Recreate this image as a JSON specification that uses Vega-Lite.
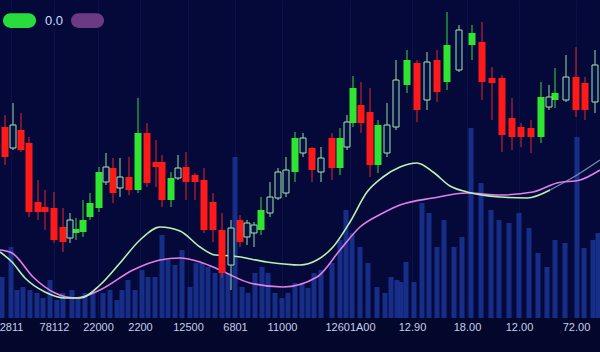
{
  "$schema": "https://vega.github.io/schema/vega-lite/v6.json",
  "width": 600,
  "height": 318,
  "autosize": "none",
  "padding": {"left": 0, "top": 0, "right": 0, "bottom": 34},
  "background": "#03072b",
  "config": {"view": {"fill": "#04093a", "stroke": null}},
  "datasets": {
    "candles": [
      {"x": 5, "o": 185, "h": 197, "l": 147, "c": 155, "kind": "down"},
      {"x": 13, "o": 164, "h": 209, "l": 162, "c": 187, "kind": "hollow"},
      {"x": 21, "o": 182, "h": 199, "l": 160, "c": 162, "kind": "down"},
      {"x": 29, "o": 169, "h": 175, "l": 95, "c": 100, "kind": "down"},
      {"x": 38, "o": 110, "h": 132, "l": 92, "c": 100, "kind": "down"},
      {"x": 45, "o": 105, "h": 122, "l": 82, "c": 100, "kind": "down"},
      {"x": 54, "o": 104, "h": 120, "l": 69, "c": 72, "kind": "down"},
      {"x": 63, "o": 85, "h": 104, "l": 60, "c": 70, "kind": "down"},
      {"x": 70, "o": 74, "h": 99, "l": 69, "c": 92, "kind": "hollow"},
      {"x": 76, "o": 79, "h": 94, "l": 72, "c": 83, "kind": "up"},
      {"x": 83, "o": 80, "h": 112, "l": 75, "c": 92, "kind": "up"},
      {"x": 90, "o": 95, "h": 119, "l": 92, "c": 109, "kind": "up"},
      {"x": 99, "o": 104, "h": 145, "l": 100, "c": 140, "kind": "up"},
      {"x": 106, "o": 130, "h": 159, "l": 127, "c": 145, "kind": "hollow"},
      {"x": 113, "o": 144, "h": 154, "l": 109, "c": 119, "kind": "down"},
      {"x": 120, "o": 124, "h": 154, "l": 115, "c": 135, "kind": "hollow"},
      {"x": 129, "o": 135, "h": 155, "l": 117, "c": 122, "kind": "down"},
      {"x": 138, "o": 122, "h": 214, "l": 119, "c": 179, "kind": "up"},
      {"x": 147, "o": 179, "h": 189, "l": 125, "c": 129, "kind": "down"},
      {"x": 156, "o": 150, "h": 172, "l": 125, "c": 145, "kind": "down"},
      {"x": 162, "o": 150, "h": 157, "l": 105, "c": 112, "kind": "down"},
      {"x": 171, "o": 112, "h": 140, "l": 105, "c": 134, "kind": "up"},
      {"x": 178, "o": 134, "h": 157, "l": 132, "c": 144, "kind": "hollow"},
      {"x": 186, "o": 145, "h": 160, "l": 112, "c": 130, "kind": "down"},
      {"x": 195, "o": 137, "h": 139, "l": 112, "c": 130, "kind": "down"},
      {"x": 204, "o": 132, "h": 144, "l": 79, "c": 82, "kind": "down"},
      {"x": 213, "o": 110, "h": 119, "l": 70, "c": 82, "kind": "down"},
      {"x": 222, "o": 82, "h": 99, "l": 34, "c": 39, "kind": "down"},
      {"x": 231, "o": 47, "h": 92, "l": 22, "c": 84, "kind": "hollow"},
      {"x": 240, "o": 92, "h": 97, "l": 65, "c": 70, "kind": "down"},
      {"x": 247, "o": 75, "h": 92, "l": 67, "c": 89, "kind": "hollow"},
      {"x": 254, "o": 79, "h": 90, "l": 65, "c": 87, "kind": "hollow"},
      {"x": 261, "o": 82, "h": 115, "l": 77, "c": 102, "kind": "up"},
      {"x": 270, "o": 99, "h": 130, "l": 95, "c": 115, "kind": "hollow"},
      {"x": 278, "o": 114, "h": 144, "l": 112, "c": 140, "kind": "hollow"},
      {"x": 286, "o": 119, "h": 155, "l": 115, "c": 142, "kind": "hollow"},
      {"x": 295, "o": 140, "h": 180, "l": 130, "c": 174, "kind": "up"},
      {"x": 303, "o": 159, "h": 179, "l": 155, "c": 174, "kind": "hollow"},
      {"x": 312, "o": 164, "h": 165, "l": 130, "c": 142, "kind": "down"},
      {"x": 321, "o": 140, "h": 165, "l": 130, "c": 154, "kind": "hollow"},
      {"x": 332, "o": 174, "h": 179, "l": 132, "c": 144, "kind": "down"},
      {"x": 340, "o": 144, "h": 184, "l": 137, "c": 174, "kind": "up"},
      {"x": 347, "o": 165, "h": 197, "l": 162, "c": 190, "kind": "hollow"},
      {"x": 353, "o": 189, "h": 236, "l": 185, "c": 224, "kind": "up"},
      {"x": 361, "o": 207, "h": 230, "l": 179, "c": 189, "kind": "down"},
      {"x": 370, "o": 200, "h": 224, "l": 135, "c": 147, "kind": "down"},
      {"x": 378, "o": 147, "h": 192, "l": 139, "c": 187, "kind": "up"},
      {"x": 387, "o": 159, "h": 209, "l": 155, "c": 187, "kind": "hollow"},
      {"x": 396, "o": 185, "h": 252, "l": 182, "c": 232, "kind": "hollow"},
      {"x": 407, "o": 227, "h": 262, "l": 219, "c": 252, "kind": "up"},
      {"x": 417, "o": 249, "h": 252, "l": 190, "c": 202, "kind": "down"},
      {"x": 427, "o": 212, "h": 260, "l": 202, "c": 250, "kind": "hollow"},
      {"x": 437, "o": 252, "h": 262, "l": 210, "c": 220, "kind": "down"},
      {"x": 447, "o": 230, "h": 300, "l": 222, "c": 267, "kind": "up"},
      {"x": 459, "o": 242, "h": 287, "l": 240, "c": 282, "kind": "hollow"},
      {"x": 472, "o": 267, "h": 287, "l": 252, "c": 279, "kind": "up"},
      {"x": 482, "o": 270, "h": 290, "l": 212, "c": 230, "kind": "down"},
      {"x": 492, "o": 234, "h": 245, "l": 192, "c": 229, "kind": "down"},
      {"x": 502, "o": 234, "h": 237, "l": 160, "c": 177, "kind": "down"},
      {"x": 512, "o": 194, "h": 214, "l": 162, "c": 175, "kind": "down"},
      {"x": 521, "o": 185, "h": 189, "l": 165, "c": 175, "kind": "down"},
      {"x": 531, "o": 184, "h": 192, "l": 159, "c": 175, "kind": "down"},
      {"x": 541, "o": 175, "h": 230, "l": 169, "c": 215, "kind": "up"},
      {"x": 549, "o": 205, "h": 227, "l": 202, "c": 215, "kind": "hollow"},
      {"x": 555, "o": 212, "h": 244, "l": 204, "c": 219, "kind": "up"},
      {"x": 566, "o": 212, "h": 257, "l": 210, "c": 235, "kind": "hollow"},
      {"x": 576, "o": 235, "h": 265, "l": 195, "c": 202, "kind": "down"},
      {"x": 585, "o": 229, "h": 235, "l": 192, "c": 202, "kind": "down"},
      {"x": 595, "o": 210, "h": 262, "l": 199, "c": 247, "kind": "hollow"}
    ],
    "volume": [
      {"x": 2, "vol": 35}, {"x": 11, "vol": 65}, {"x": 17, "vol": 22}, {"x": 23, "vol": 25},
      {"x": 30, "vol": 22}, {"x": 37, "vol": 19}, {"x": 43, "vol": 14}, {"x": 50, "vol": 32},
      {"x": 57, "vol": 12}, {"x": 63, "vol": 19}, {"x": 72, "vol": 22}, {"x": 78, "vol": 14},
      {"x": 85, "vol": 19}, {"x": 93, "vol": 20}, {"x": 103, "vol": 19}, {"x": 110, "vol": 22},
      {"x": 117, "vol": 12}, {"x": 122, "vol": 22}, {"x": 128, "vol": 32}, {"x": 135, "vol": 22},
      {"x": 142, "vol": 42}, {"x": 148, "vol": 35}, {"x": 155, "vol": 35}, {"x": 162, "vol": 77},
      {"x": 168, "vol": 52}, {"x": 175, "vol": 47}, {"x": 182, "vol": 62}, {"x": 190, "vol": 25},
      {"x": 196, "vol": 49}, {"x": 202, "vol": 49}, {"x": 208, "vol": 45}, {"x": 215, "vol": 39},
      {"x": 222, "vol": 49}, {"x": 228, "vol": 39}, {"x": 235, "vol": 155}, {"x": 242, "vol": 25},
      {"x": 248, "vol": 19}, {"x": 255, "vol": 39}, {"x": 262, "vol": 45}, {"x": 268, "vol": 39},
      {"x": 275, "vol": 19}, {"x": 282, "vol": 14}, {"x": 288, "vol": 19}, {"x": 295, "vol": 29},
      {"x": 302, "vol": 29}, {"x": 308, "vol": 24}, {"x": 314, "vol": 39}, {"x": 321, "vol": 42},
      {"x": 332, "vol": 49}, {"x": 340, "vol": 72}, {"x": 346, "vol": 102}, {"x": 352, "vol": 79},
      {"x": 360, "vol": 65}, {"x": 368, "vol": 49}, {"x": 377, "vol": 25}, {"x": 385, "vol": 19},
      {"x": 391, "vol": 35}, {"x": 397, "vol": 32}, {"x": 401, "vol": 30}, {"x": 406, "vol": 50},
      {"x": 414, "vol": 30}, {"x": 422, "vol": 109}, {"x": 429, "vol": 99}, {"x": 437, "vol": 65},
      {"x": 444, "vol": 92}, {"x": 454, "vol": 65}, {"x": 462, "vol": 75}, {"x": 471, "vol": 184},
      {"x": 481, "vol": 129}, {"x": 491, "vol": 102}, {"x": 499, "vol": 92}, {"x": 509, "vol": 89},
      {"x": 519, "vol": 99}, {"x": 529, "vol": 84}, {"x": 538, "vol": 59}, {"x": 547, "vol": 45},
      {"x": 555, "vol": 72}, {"x": 565, "vol": 69}, {"x": 577, "vol": 175}, {"x": 584, "vol": 64},
      {"x": 593, "vol": 72}, {"x": 598, "vol": 79}
    ],
    "lines": [
      {"series": "a", "x": 0, "v": 60}, {"series": "a", "x": 12, "v": 50}, {"series": "a", "x": 25, "v": 34},
      {"series": "a", "x": 45, "v": 20}, {"series": "a", "x": 65, "v": 14}, {"series": "a", "x": 80, "v": 14},
      {"series": "a", "x": 100, "v": 27}, {"series": "a", "x": 120, "v": 49}, {"series": "a", "x": 140, "v": 72},
      {"series": "a", "x": 160, "v": 85}, {"series": "a", "x": 180, "v": 81}, {"series": "a", "x": 200, "v": 65},
      {"series": "a", "x": 215, "v": 57}, {"series": "a", "x": 233, "v": 56}, {"series": "a", "x": 267, "v": 50},
      {"series": "a", "x": 300, "v": 47}, {"series": "a", "x": 317, "v": 52}, {"series": "a", "x": 333, "v": 65},
      {"series": "a", "x": 350, "v": 90}, {"series": "a", "x": 367, "v": 120}, {"series": "a", "x": 383, "v": 135},
      {"series": "a", "x": 400, "v": 145}, {"series": "a", "x": 417, "v": 149}, {"series": "a", "x": 433, "v": 140},
      {"series": "a", "x": 450, "v": 126}, {"series": "a", "x": 467, "v": 120}, {"series": "a", "x": 500, "v": 115},
      {"series": "a", "x": 527, "v": 114}, {"series": "a", "x": 550, "v": 122},
      {"series": "b", "x": 0, "v": 62}, {"series": "b", "x": 12, "v": 59}, {"series": "b", "x": 33, "v": 35},
      {"series": "b", "x": 55, "v": 19}, {"series": "b", "x": 75, "v": 14}, {"series": "b", "x": 100, "v": 22},
      {"series": "b", "x": 133, "v": 42}, {"series": "b", "x": 160, "v": 52}, {"series": "b", "x": 180, "v": 54},
      {"series": "b", "x": 200, "v": 50}, {"series": "b", "x": 220, "v": 42}, {"series": "b", "x": 250, "v": 29},
      {"series": "b", "x": 283, "v": 25}, {"series": "b", "x": 317, "v": 35}, {"series": "b", "x": 340, "v": 62},
      {"series": "b", "x": 360, "v": 85}, {"series": "b", "x": 383, "v": 99}, {"series": "b", "x": 400, "v": 107},
      {"series": "b", "x": 433, "v": 114}, {"series": "b", "x": 467, "v": 119}, {"series": "b", "x": 500, "v": 117},
      {"series": "b", "x": 533, "v": 120}, {"series": "b", "x": 557, "v": 129}, {"series": "b", "x": 580, "v": 132},
      {"series": "b", "x": 600, "v": 142},
      {"series": "c", "x": 550, "v": 122}, {"series": "c", "x": 577, "v": 137}, {"series": "c", "x": 600, "v": 152}
    ],
    "legend": [
      {"x": 0, "s": "0.0"},
      {"x": 0, "s": " "}
    ]
  },
  "encoding": {
    "x": {
      "field": "x",
      "type": "quantitative",
      "title": null,
      "scale": {"domain": [0, 600], "nice": false, "zero": false, "padding": 0},
      "axis": {
        "values": [11, 54, 98, 140, 188, 235, 282, 350, 412, 467, 519, 576],
        "labelExpr": "['2811','78112','22000','2200','12500','6801','11000','12601A00','12.90','18.00','12.00','72.00'][indexof([11,54,98,140,188,235,282,350,412,467,519,576], datum.value)]",
        "domain": false,
        "ticks": false,
        "labelPadding": 3,
        "labelColor": "#c6cfea",
        "labelFont": "Liberation Sans",
        "labelFontSize": 11,
        "labelOverlap": false,
        "labelFlush": false,
        "labelBound": false,
        "grid": true,
        "gridColor": "#16205a",
        "gridOpacity": 0.45,
        "title": null
      }
    }
  },
  "layer": [
    {
      "data": {"name": "volume"},
      "mark": {"type": "bar", "width": 5, "color": "#1a3596", "opacity": 0.85},
      "encoding": {
        "y": {
          "field": "vol",
          "type": "quantitative",
          "title": null,
          "scale": {"domain": [-6, 312], "nice": false, "zero": false},
          "axis": {
            "values": [30, 72, 114, 156, 198, 240, 282],
            "labels": false,
            "ticks": false,
            "domain": false,
            "grid": true,
            "gridColor": "#16205a",
            "gridOpacity": 0.45,
            "title": null
          }
        },
        "y2": {"datum": -6}
      }
    },
    {
      "data": {"name": "lines"},
      "transform": [{"filter": "datum.series === 'c'"}],
      "mark": {"type": "line", "interpolate": "monotone", "strokeWidth": 1.4, "color": "#8da4c8", "opacity": 0.8},
      "encoding": {
        "y": {"field": "v", "type": "quantitative", "title": null, "axis": null, "scale": {"domain": [-6, 312], "nice": false, "zero": false}}
      }
    },
    {
      "data": {"name": "lines"},
      "transform": [{"filter": "datum.series === 'b'"}],
      "mark": {"type": "line", "interpolate": "monotone", "strokeWidth": 1.6, "color": "#e47ee6"},
      "encoding": {
        "y": {"field": "v", "type": "quantitative", "title": null, "axis": null, "scale": {"domain": [-6, 312], "nice": false, "zero": false}}
      }
    },
    {
      "data": {"name": "lines"},
      "transform": [{"filter": "datum.series === 'a'"}],
      "mark": {"type": "line", "interpolate": "monotone", "strokeWidth": 1.6, "color": "#b9f3b2"},
      "encoding": {
        "y": {"field": "v", "type": "quantitative", "title": null, "axis": null, "scale": {"domain": [-6, 312], "nice": false, "zero": false}}
      }
    },
    {
      "data": {"name": "candles"},
      "mark": {"type": "rule", "strokeWidth": 1},
      "encoding": {
        "y": {"field": "h", "type": "quantitative", "title": null, "axis": null, "scale": {"domain": [-6, 312], "nice": false, "zero": false}},
        "y2": {"field": "l"},
        "stroke": {
          "field": "kind",
          "type": "nominal",
          "scale": {"domain": ["down", "up", "hollow"], "range": ["#e3262a", "#3ad83c", "#97dca4"]},
          "legend": null
        }
      }
    },
    {
      "data": {"name": "candles"},
      "transform": [{"filter": "datum.kind !== 'hollow'"}],
      "mark": {"type": "bar", "width": 7},
      "encoding": {
        "y": {"field": "o", "type": "quantitative", "title": null, "axis": null, "scale": {"domain": [-6, 312], "nice": false, "zero": false}},
        "y2": {"field": "c"},
        "fill": {
          "field": "kind",
          "type": "nominal",
          "scale": {"domain": ["down", "up"], "range": ["#ff1a1a", "#2fe532"]},
          "legend": null
        }
      }
    },
    {
      "data": {"name": "candles"},
      "transform": [{"filter": "datum.kind === 'hollow'"}],
      "mark": {"type": "bar", "width": 6, "fill": "#061044", "stroke": "#a3e6ab", "strokeWidth": 1},
      "encoding": {
        "y": {"field": "o", "type": "quantitative", "title": null, "axis": null, "scale": {"domain": [-6, 312], "nice": false, "zero": false}},
        "y2": {"field": "c"}
      }
    },
    {
      "data": {"name": "legend"},
      "mark": {"type": "square", "opacity": 0, "filled": true},
      "encoding": {
        "color": {
          "field": "s",
          "type": "nominal",
          "scale": {"domain": ["0.0", " "], "range": ["#27dc3c", "#6c3a82"]},
          "legend": {
            "orient": "none",
            "legendX": 3,
            "legendY": 4,
            "direction": "horizontal",
            "title": null,
            "symbolType": "M-0.56,-0.44H0.56A0.44,0.44,0,0,1,0.56,0.44H-0.56A0.44,0.44,0,0,1,-0.56,-0.44Z",
            "symbolSize": 1089,
            "symbolStrokeWidth": 0,
            "symbolOpacity": 1,
            "labelColor": "#cddaff",
            "labelFontSize": 13,
            "labelFont": "Liberation Sans",
            "labelOffset": 9,
            "columnPadding": 7,
            "padding": 0
          }
        }
      }
    }
  ]
}
